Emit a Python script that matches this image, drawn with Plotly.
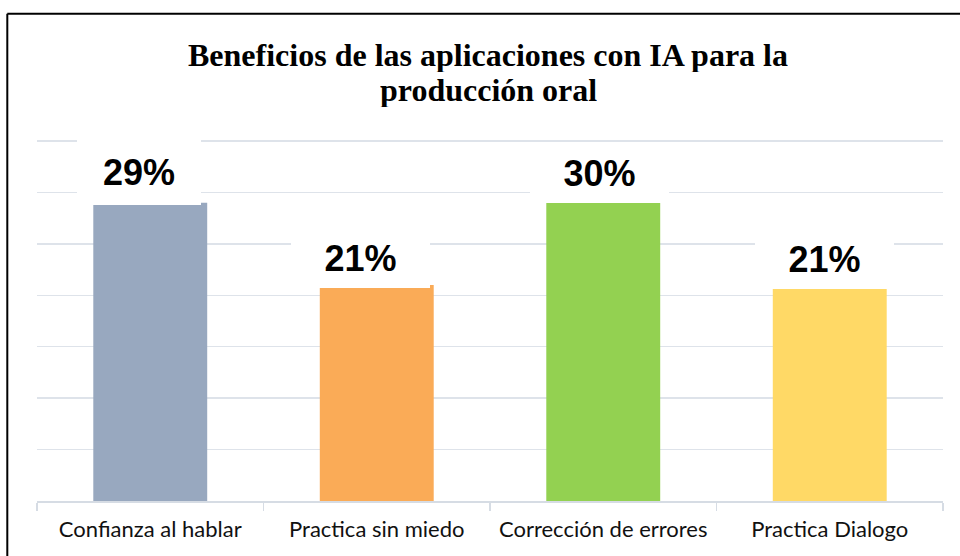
import plotly.graph_objects as go

categories = ["Confianza al hablar", "Practica sin miedo", "Corrección de errores", "Practica Dialogo"]
values = [29, 21, 30, 21]
value_labels = ["29%", "21%", "30%", "21%"]
bar_colors = ["#98A8BF", "#FAAB57", "#93D151", "#FFD966"]
title_lines = ["Beneficios de las aplicaciones con IA para la", "producción oral"]

# label box nudges (px), as placed in the original chart
label_dx = [-11, -16, -4, -5]
label_dy = [-2.3, -2.7, -10.7, -4]
label_box_w = [124, 139, 139, 139]
label_box_h = [66, 59, 59, 59]

W, H = 960, 556
ML, MR, MT, MB = 37, 17, 140, 55
PW, PH = W - ML - MR, H - MT - MB
YMAX = 35.1

fig = go.Figure()
fig.add_trace(go.Bar(
    x=categories, y=values, marker=dict(color=bar_colors, line=dict(width=0)),
    width=0.503, hoverinfo="skip", showlegend=False,
))

for c, v, t, dx, dy, bw, bh in zip(categories, values, value_labels,
                                   label_dx, label_dy, label_box_w, label_box_h):
    fig.add_annotation(
        x=c, y=v, xref="x", yref="y", text="<b>" + t + "</b>", showarrow=False,
        xanchor="center", yanchor="bottom", xshift=dx, yshift=dy,
        width=bw, height=bh, bgcolor="white", borderpad=0, borderwidth=0,
        font=dict(family="Liberation Sans, Arial", size=36, color="black"),
    )

def px_x(px):
    return (px - ML) / PW

def px_y(py):
    return (H - MB - py) / PH

# title, two tightly spaced lines
for line, cy in zip(title_lines, [55, 90]):
    fig.add_annotation(
        x=px_x(488), y=px_y(cy), xref="paper", yref="paper", text="<b>" + line + "</b>",
        showarrow=False, xanchor="center", yanchor="middle", height=34,
        font=dict(family="Liberation Serif, Times New Roman", size=32, color="black"),
    )

fig.add_shape(type="line", xref="paper", yref="paper",
              x0=px_x(7.3), x1=px_x(980), y0=px_y(13.7), y1=px_y(13.7),
              line=dict(color="black", width=2))
fig.add_shape(type="line", xref="paper", yref="paper",
              x0=px_x(7.3), x1=px_x(7.3), y0=px_y(13.7), y1=px_y(580),
              line=dict(color="black", width=2))

fig.update_layout(
    width=W, height=H,
    margin=dict(l=ML, r=MR, t=MT, b=MB, pad=0),
    paper_bgcolor="white", plot_bgcolor="white",
    bargap=0.497,
    xaxis=dict(
        showline=True, linecolor="#D6DCE4", linewidth=1.5,
        ticks="outside", tickson="boundaries", ticklen=8, tickcolor="#D6DCE4", tickwidth=1.5,
        tickfont=dict(family="Lato, Carlito, Calibri", size=22, color="#111111"),
        ticklabelstandoff=8,
        showgrid=False, fixedrange=True,
    ),
    yaxis=dict(
        range=[0, YMAX], dtick=5, showticklabels=False, ticks="",
        showgrid=True, gridcolor="#DEE3EA", gridwidth=1.5, zeroline=False,
        showline=False, fixedrange=True,
    ),
)

fig.write_html("out.html", config={"displayModeBar": False, "staticPlot": True},
               post_script="document.body.style.margin='0';document.body.style.overflow='hidden';")
